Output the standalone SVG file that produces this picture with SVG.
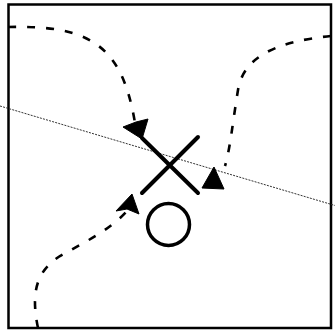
<svg xmlns="http://www.w3.org/2000/svg" width="335" height="331" viewBox="0 0 335 331">
<style>
.frame{fill:none;stroke:#000;stroke-width:2.5}
.axis{fill:none;stroke:#333;stroke-width:1;stroke-dasharray:2,1.2}
.flow{fill:none;stroke:#000;stroke-width:2.6;stroke-dasharray:8,11}
.head{fill:#000;stroke:#000;stroke-width:1;stroke-linejoin:round}
.mark{fill:none;stroke:#000;stroke-width:4;stroke-linecap:round}
.ring{fill:none;stroke:#000;stroke-width:3.5}
</style>
<rect class="frame" x="8.5" y="4.5" width="322.5" height="323.5"/>
<line class="axis" x1="0" y1="106" x2="335" y2="205.5"/>
<g id="connectors">
<path class="flow" d="M8,27 C90,25 122,45 135,123"/>
<polygon class="head" points="123,127 136,122 148,119 142,139"/>
<path class="flow" d="M331,36 C270,42 243,60 238,90 C233,120 230,150 225,166"/>
<polygon class="head" points="214,167 202,188 224,189"/>
<path class="flow" d="M38,328 C30,290 38,270 60,256 C85,242 110,230 127,211"/>
<polygon class="head" points="132,194 116,211 127,209 139,214"/>
</g>
<g id="cross">
<line class="mark" x1="142" y1="138" x2="198" y2="193"/>
<line class="mark" x1="198" y1="137" x2="142" y2="193"/>
</g>
<g id="circle">
<circle class="ring" cx="168.5" cy="224.5" r="21"/>
</g>
</svg>
